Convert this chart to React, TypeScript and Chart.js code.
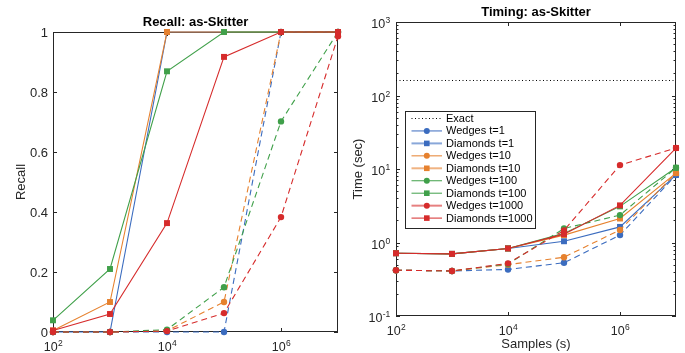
import React, { useEffect, useRef } from 'react';
import { Chart, registerables } from 'chart.js';

Chart.register(...registerables);

// ---------------- data ----------------
const samples = [1e2, 1e3, 1e4, 1e5, 1e6, 1e7];
const seriesLabels = [
  'Wedges t=1',
  'Diamonds t=1',
  'Wedges t=10',
  'Diamonds t=10',
  'Wedges t=100',
  'Diamonds t=100',
  'Wedges t=1000',
  'Diamonds t=1000',
];

// Recall
const recallWedgesT1 = [0, 0, 0, 0, 1, 1];
const recallDiamondsT1 = [0, 0, 1, 1, 1, 1];
const recallWedgesT10 = [0, 0, 0.004, 0.1, 1, 1];
const recallDiamondsT10 = [0.005, 0.1, 1, 1, 1, 1];
const recallWedgesT100 = [0, 0, 0.008, 0.149, 0.702, 1];
const recallDiamondsT100 = [0.039, 0.21, 0.869, 1, 1, 1];
const recallWedgesT1000 = [0, 0, 0.003, 0.063, 0.383, 0.986];
const recallDiamondsT1000 = [0.005, 0.06, 0.363, 0.917, 1, 1];

// Timing (sec)
const timeWedgesT1 = [0.42, 0.41, 0.43, 0.53, 1.26, 8.3];
const timeDiamondsT1 = [0.715, 0.7, 0.83, 1.04, 1.63, 8.3];
const timeWedgesT10 = [0.42, 0.41, 0.5, 0.63, 1.48, 8.8];
const timeDiamondsT10 = [0.715, 0.7, 0.83, 1.26, 2.12, 8.8];
const timeWedgesT100 = [0.42, 0.41, 0.51, 1.55, 2.36, 10.4];
const timeDiamondsT100 = [0.715, 0.7, 0.83, 1.33, 3.1, 10.4];
const timeWedgesT1000 = [0.42, 0.41, 0.52, 1.46, 11.3, 19.3];
const timeDiamondsT1000 = [0.715, 0.7, 0.83, 1.3, 3.2, 19.3];
const exactTime = 160;

// ticks
const recallYTicks = [0, 0.2, 0.4, 0.6, 0.8, 1];
const recallYTickLabels = ['0', '0.2', '0.4', '0.6', '0.8', '1'];
const xTickExponents = [2, 4, 6];
const timeYTickExponents = [-1, 0, 1, 2, 3];

// ---------------- style ----------------
const FONT = '"Liberation Sans", Arial, Helvetica, sans-serif';
const INK = '#262626';
const BLUE = '#3b6cbf';
const ORANGE = '#e6812e';
const GREEN = '#40a04a';
const RED = '#d62b2b';
const seriesColors = [BLUE, BLUE, ORANGE, ORANGE, GREEN, GREEN, RED, RED];

const recallSeries = [
  recallWedgesT1, recallDiamondsT1, recallWedgesT10, recallDiamondsT10,
  recallWedgesT100, recallDiamondsT100, recallWedgesT1000, recallDiamondsT1000,
];
const timeSeries = [
  timeWedgesT1, timeDiamondsT1, timeWedgesT10, timeDiamondsT10,
  timeWedgesT100, timeDiamondsT100, timeWedgesT1000, timeDiamondsT1000,
];

function buildDatasets(series: number[][]) {
  return series.map((vals, i) => {
    const wedge = i % 2 === 0;
    return {
      label: seriesLabels[i],
      data: samples.map((s, k) => ({ x: s, y: vals[k] })),
      borderColor: seriesColors[i],
      backgroundColor: seriesColors[i],
      borderWidth: 1.1,
      borderDash: wedge ? [6, 4] : [],
      pointStyle: wedge ? 'circle' : 'rect',
      pointRadius: wedge ? 3.2 : 4.2,
      pointBorderWidth: 0,
      tension: 0,
      clip: false as any,
      order: 8 - i,
    };
  });
}

function setFont(ctx: CanvasRenderingContext2D, size: number, bold = false) {
  ctx.font = `${bold ? 'bold ' : ''}${size}px ${FONT}`;
}

function drawPow(ctx: CanvasRenderingContext2D, x: number, baseY: number, exp: string, align: 'center' | 'right') {
  setFont(ctx, 12.5);
  const wb = ctx.measureText('10').width;
  setFont(ctx, 8.5);
  const we = ctx.measureText(exp).width;
  const sx = align === 'center' ? x - (wb + we) / 2 : x - wb - we;
  ctx.textAlign = 'left';
  ctx.textBaseline = 'alphabetic';
  setFont(ctx, 12.5);
  ctx.fillText('10', sx, baseY);
  setFont(ctx, 8.5);
  ctx.fillText(exp, sx + wb + 0.3, baseY - 5);
}

type Deco = {
  title: string;
  yTitle: string;
  xTitle?: string;
  yLog: boolean;
  legend: boolean;
};

function decoPlugin(cfg: Deco) {
  return {
    id: 'deco',
    beforeDatasetsDraw(chart: any) {
      const { ctx, chartArea: a, scales } = chart;
      const xs = scales.x;
      const ys = scales.y;
      ctx.save();
      ctx.strokeStyle = INK;
      ctx.lineWidth = 1;
      ctx.strokeRect(a.left + 0.5, a.top + 0.5, a.right - a.left - 1, a.bottom - a.top - 1);
      ctx.beginPath();
      xTickExponents.forEach((e) => {
        const px = Math.round(xs.getPixelForValue(Math.pow(10, e))) + 0.5;
        ctx.moveTo(px, a.bottom);
        ctx.lineTo(px, a.bottom - 4);
        ctx.moveTo(px, a.top);
        ctx.lineTo(px, a.top + 4);
      });
      const yMajor = cfg.yLog ? timeYTickExponents.map((e) => Math.pow(10, e)) : recallYTicks;
      yMajor.forEach((v) => {
        const py = Math.round(ys.getPixelForValue(v)) + 0.5;
        ctx.moveTo(a.left, py);
        ctx.lineTo(a.left + 4, py);
        ctx.moveTo(a.right, py);
        ctx.lineTo(a.right - 4, py);
      });
      if (cfg.yLog) {
        for (let e = timeYTickExponents[0]; e < timeYTickExponents[timeYTickExponents.length - 1]; e++) {
          for (let m = 2; m <= 9; m++) {
            const py = Math.round(ys.getPixelForValue(m * Math.pow(10, e))) + 0.5;
            ctx.moveTo(a.left, py);
            ctx.lineTo(a.left + 2.5, py);
            ctx.moveTo(a.right, py);
            ctx.lineTo(a.right - 2.5, py);
          }
        }
      }
      ctx.stroke();
      ctx.restore();
    },
    afterDraw(chart: any) {
      const { ctx, chartArea: a, scales } = chart;
      const xs = scales.x;
      const ys = scales.y;
      ctx.save();
      ctx.fillStyle = INK;
      // x tick labels
      xTickExponents.forEach((e) => {
        const px = xs.getPixelForValue(Math.pow(10, e));
        drawPow(ctx, px, a.bottom + 18.5, String(e), 'center');
      });
      // y tick labels
      if (cfg.yLog) {
        timeYTickExponents.forEach((e) => {
          const py = ys.getPixelForValue(Math.pow(10, e));
          drawPow(ctx, a.left - 6, py + 6, String(e), 'right');
        });
      } else {
        setFont(ctx, 13);
        ctx.textAlign = 'right';
        ctx.textBaseline = 'alphabetic';
        recallYTicks.forEach((v, i) => {
          const py = ys.getPixelForValue(v);
          ctx.fillText(recallYTickLabels[i], a.left - 5, py + 4.6);
        });
      }
      // title
      ctx.fillStyle = '#000';
      setFont(ctx, 13, true);
      ctx.textAlign = 'center';
      ctx.textBaseline = 'alphabetic';
      ctx.fillText(cfg.title, (a.left + a.right) / 2, a.top - 6);
      // axis titles
      ctx.fillStyle = INK;
      setFont(ctx, 13);
      if (cfg.xTitle) {
        ctx.fillText(cfg.xTitle, (a.left + a.right) / 2, a.bottom + 32);
      }
      ctx.save();
      ctx.translate(cfg.yLog ? a.left - 38 : a.left - 32, (a.top + a.bottom) / 2);
      ctx.rotate(-Math.PI / 2);
      ctx.textAlign = 'center';
      ctx.textBaseline = 'middle';
      ctx.fillText(cfg.yTitle, 0, 0);
      ctx.restore();

      if (cfg.legend) {
        const bx = a.left + 9.5;
        const by = a.top + 89.5;
        const bw = 130;
        const bh = 117;
        ctx.fillStyle = '#fff';
        ctx.fillRect(bx, by, bw, bh);
        ctx.strokeStyle = INK;
        ctx.lineWidth = 1;
        ctx.strokeRect(bx, by, bw, bh);
        const rows = ['Exact', ...seriesLabels];
        setFont(ctx, 11);
        rows.forEach((label, r) => {
          const ry = by + 7 + r * 12.45;
          const x0 = bx + 6;
          const x1 = bx + 36.5;
          const mx = bx + 21.3;
          ctx.save();
          if (r === 0) {
            ctx.strokeStyle = '#000';
            ctx.setLineDash([1, 2.5]);
            ctx.lineWidth = 1;
          } else {
            const i = r - 1;
            const wedge = i % 2 === 0;
            ctx.strokeStyle = seriesColors[i];
            ctx.setLineDash([]);
            const heavy = i === 1 || i === 3 || i === 6;
            ctx.lineWidth = heavy ? 2 : 1;
            ctx.globalAlpha = heavy ? 0.6 : 1;
            void wedge;
          }
          ctx.beginPath();
          ctx.moveTo(x0, ry);
          ctx.lineTo(x1, ry);
          ctx.stroke();
          ctx.globalAlpha = 1;
          if (r > 0) {
            const i = r - 1;
            ctx.fillStyle = seriesColors[i];
            ctx.beginPath();
            if (i % 2 === 0) {
              ctx.arc(mx, ry, 3, 0, Math.PI * 2);
            } else {
              ctx.rect(mx - 2.8, ry - 2.8, 5.6, 5.6);
            }
            ctx.fill();
          }
          ctx.restore();
          ctx.fillStyle = '#000';
          ctx.textAlign = 'left';
          ctx.textBaseline = 'middle';
          ctx.fillText(label, bx + 40.5, ry + 0.5);
        });
      }
      ctx.restore();
    },
  };
}

function useChart(ref: React.RefObject<HTMLCanvasElement | null>, make: (c: HTMLCanvasElement) => Chart) {
  useEffect(() => {
    if (!ref.current) return;
    const ch = make(ref.current);
    return () => ch.destroy();
  }, []);
}

export default function App() {
  const leftRef = useRef<HTMLCanvasElement | null>(null);
  const rightRef = useRef<HTMLCanvasElement | null>(null);

  useChart(leftRef, (c) =>
    new Chart(c, {
      type: 'line',
      data: { datasets: buildDatasets(recallSeries) as any },
      options: {
        animation: false,
        responsive: false,
        maintainAspectRatio: false,
        events: [],
        layout: { padding: { left: 53, right: 7, top: 32, bottom: 21 } },
        plugins: { legend: { display: false }, tooltip: { enabled: false }, title: { display: false } },
        scales: {
          x: { type: 'logarithmic', min: 1e2, max: 1e7, display: false },
          y: { type: 'linear', min: 0, max: 1, display: false },
        },
      },
      plugins: [decoPlugin({ title: 'Recall: as-Skitter', yTitle: 'Recall', yLog: false, legend: false })],
    } as any)
  );

  useChart(rightRef, (c) =>
    new Chart(c, {
      type: 'line',
      data: {
        datasets: [
          {
            label: 'Exact',
            data: [
              { x: samples[0], y: exactTime },
              { x: samples[samples.length - 1], y: exactTime },
            ],
            borderColor: '#000',
            borderWidth: 1,
            borderDash: [1, 2.5],
            pointRadius: 0,
            order: 10,
          },
          ...(buildDatasets(timeSeries) as any),
        ],
      },
      options: {
        animation: false,
        responsive: false,
        maintainAspectRatio: false,
        events: [],
        layout: { padding: { left: 51, right: 9, top: 22, bottom: 37 } },
        plugins: { legend: { display: false }, tooltip: { enabled: false }, title: { display: false } },
        scales: {
          x: { type: 'logarithmic', min: 1e2, max: 1e7, display: false },
          y: { type: 'logarithmic', min: 1e-1, max: 1e3, display: false },
        },
      },
      plugins: [
        decoPlugin({
          title: 'Timing: as-Skitter',
          yTitle: 'Time (sec)',
          xTitle: 'Samples (s)',
          yLog: true,
          legend: true,
        }),
      ],
    } as any)
  );

  return (
    <div style={{ position: 'absolute', left: 0, top: 0, width: 685, height: 353, background: '#fff', overflow: 'hidden' }}>
      <canvas ref={leftRef} width={345} height={353} style={{ position: 'absolute', left: 0, top: 0 }} />
      <canvas ref={rightRef} width={340} height={353} style={{ position: 'absolute', left: 345, top: 0 }} />
    </div>
  );
}
